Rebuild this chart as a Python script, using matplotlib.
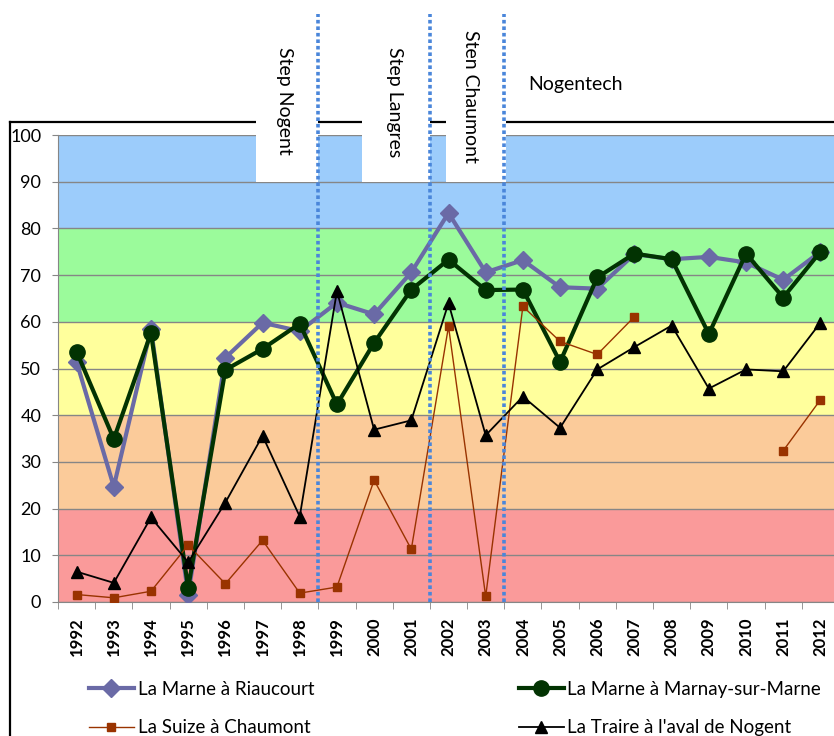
import matplotlib
matplotlib.use("Agg")
import matplotlib.pyplot as plt
from matplotlib.patches import Rectangle
from matplotlib.lines import Line2D

plt.rcParams['font.family'] = ['Lato', 'DejaVu Sans']

years = [str(y) for y in range(1992, 2013)]
riaucourt = [51.4, 24.7, 58.5, 1.6, 52.3, 59.8, 58.0, 64.1, 61.6, 70.6, 83.3,
             70.6, 73.2, 67.4, 67.1, 74.5, 73.4, 73.9, 72.7, 69.0, 75.0]
marnay = [53.6, 34.9, 57.6, 3.0, 49.7, 54.2, 59.6, 42.3, 55.5, 66.9, 73.3,
          66.8, 66.9, 51.4, 69.5, 74.6, 73.4, 57.4, 74.6, 65.2, 75.0]
suize = [1.6, 0.9, 2.3, 12.2, 3.9, 13.2, 1.9, 3.2, 26.1, 11.3, 59.0,
         1.2, 63.3, 55.8, 53.0, 61.1, None, None, None, 32.4, 43.3]
traire = [6.5, 4.1, 18.1, 8.5, 21.3, 35.6, 18.3, 66.6, 36.9, 38.9, 64.0,
          35.7, 44.0, 37.3, 49.8, 54.6, 59.2, 45.7, 49.8, 49.4, 59.8]

series_names = ["La Marne à Riaucourt", "La Marne à Marnay-sur-Marne",
                "La Suize à Chaumont", "La Traire à l'aval de Nogent"]

# quality classes (lower bound, upper bound, colour)
band_edges = [0, 20, 40, 60, 80, 100]
band_colors = ['#FA9A9A', '#FBCB9A', '#FFFF9C', '#9BFB9B', '#9CCCFB']

# works: last year before each step came in
step_years = ['1998', '2001', '2003']
step_labels = ['Step Nogent', 'Step Langres', 'Sten Chaumont']

fig = plt.figure(figsize=(8.34, 7.36), dpi=100)
ax = fig.add_axes([58 / 834, 1 - 602 / 736, (839 - 58) / 834, (602 - 135) / 736])

x = list(range(len(years)))

for lo, hi, c in zip(band_edges[:-1], band_edges[1:], band_colors):
    ax.axhspan(lo, hi, color=c, lw=0, zorder=1)

ax.set_axisbelow('line')
ax.yaxis.grid(True, color='#868686', lw=1)

suize_y = [float('nan') if v is None else v for v in suize]

ax.plot(x, riaucourt, color='#6A6AA6', lw=3, marker='D', ms=9,
        label=series_names[0], zorder=3)
ax.plot(x, marnay, color='#023302', lw=3, marker='o', ms=11,
        label=series_names[1], zorder=4)
ax.plot(x, suize_y, color='#993300', lw=1, marker='s', ms=6,
        label=series_names[2], zorder=5)
ax.plot(x, traire, color='black', lw=1.3, marker='^', ms=8,
        label=series_names[3], zorder=6)

ax.set_xlim(-0.5, len(years) - 0.5)
ax.set_ylim(0, 100)
ax.set_yticks(range(0, 101, 10))
ax.set_xticks(x)
ax.set_xticklabels(years, rotation=90, fontsize=12, fontweight='bold')
ax.set_xticks([i - 0.5 for i in range(len(years) + 1)], minor=True)
ax.tick_params(axis='x', which='major', length=0, pad=11)
ax.tick_params(axis='x', which='minor', length=5, color='#868686')
ax.tick_params(axis='y', length=4, color='#868686', pad=8, labelsize=13)

for s in ['top', 'right']:
    ax.spines[s].set_visible(False)
for s in ['left', 'bottom']:
    ax.spines[s].set_color('#868686')

# outer chart frame
frame_top = 102.8
frame_left = -1.79
ax.add_line(Line2D([frame_left, 22], [frame_top, frame_top], color='black',
                   lw=1.6, clip_on=False, zorder=7))
ax.add_line(Line2D([frame_left, frame_left], [frame_top, -40], color='black',
                   lw=1.6, clip_on=False, zorder=7))

# white label boxes behind the step names
boxes = [(4.82, 6.49), (7.67, 9.5), (9.93, 11.55)]
for x0, x1 in boxes:
    ax.add_patch(Rectangle((x0, 90), x1 - x0, 40, facecolor='white',
                           edgecolor='none', clip_on=False, zorder=8))

for yr in step_years:
    xp = years.index(yr) + 0.5
    ax.add_line(Line2D([xp, xp], [0, 125.9], color='#4A86DA', lw=2.6,
                       ls=(0, (1, 0.8)), clip_on=False, zorder=9))

label_x = [5.6, 8.56, 10.58]
label_top = [118.8, 118.8, 122.5]
for lx, ly, t in zip(label_x, label_top, step_labels):
    ax.text(lx, ly, t, rotation=270, ha='center', va='top', fontsize=14,
            zorder=10, clip_on=False)
ax.text(12.14, 110.9, 'Nogentech', ha='left', va='center', fontsize=14,
        zorder=10, clip_on=False)

handles, labels = ax.get_legend_handles_labels()
order = [0, 2, 1, 3]
ax.legend([handles[i] for i in order], [labels[i] for i in order], ncol=2,
          loc='upper left', bbox_to_anchor=(0.018, -0.132), frameon=False,
          fontsize=13.5, handlelength=2.4, columnspacing=10.9, labelspacing=1.15,
          handletextpad=0.2)

fig.savefig('out.png', dpi=100)
